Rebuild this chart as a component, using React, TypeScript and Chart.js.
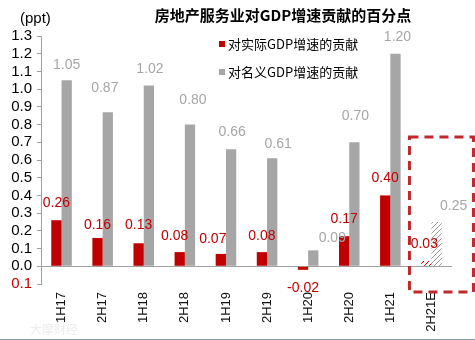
import React, { useEffect, useRef } from "react";
import { Chart, registerables } from "chart.js";

Chart.register(...registerables);

const categories = ["1H17", "2H17", "1H18", "2H18", "1H19", "2H19", "1H20", "2H20", "1H21", "2H21E"];
const realContribution = [0.26, 0.16, 0.13, 0.08, 0.07, 0.08, -0.02, 0.17, 0.4, 0.03];
const nominalContribution = [1.05, 0.87, 1.02, 0.8, 0.66, 0.61, 0.09, 0.7, 1.2, 0.25];
const seriesNames = ["对实际GDP增速的贡献", "对名义GDP增速的贡献"];
const titleText = "房地产服务业对GDP增速贡献的百分点";
const unitText = "(ppt)";
const estimateIndex = 9;

// label offsets (layout only)
const realLabelDx = [0, 0, 0, -5, -8, 0, 0, 0, 0, -2];
const realLabelDy = [-17, -13, -18, -16, -15, -16, 18, -17, -17, -17];
const nomLabelDx = [0, -3, 1, 3, 1, 6, 19, 1, 2, 17];
const nomLabelDy = [-15, -24, -16, -24, -17, -14, -12, -26, -17, -16];

const RED = "#C00000";
const GRAY = "#A6A6A6";
const AXIS = "#A0A0A0";

function makeHatch(color: string): CanvasPattern | string {
  const c = document.createElement("canvas");
  c.width = 5;
  c.height = 5;
  const g = c.getContext("2d");
  if (!g) return color;
  g.fillStyle = "#ffffff";
  g.fillRect(0, 0, 5, 5);
  g.strokeStyle = color;
  g.lineWidth = 1;
  g.beginPath();
  g.moveTo(0, 5);
  g.lineTo(5, 0);
  g.moveTo(-1, 1);
  g.lineTo(1, -1);
  g.moveTo(4, 6);
  g.lineTo(6, 4);
  g.stroke();
  const p = g.createPattern(c, "repeat");
  return p || color;
}

export default function App() {
  const ref = useRef<HTMLCanvasElement | null>(null);

  useEffect(() => {
    const canvas = ref.current;
    if (!canvas) return;
    const redHatch = makeHatch(RED);
    const grayHatch = makeHatch("#9a9a9a");

    const decor = {
      id: "decor",
      afterDatasetsDraw(chart: any) {
        const ctx = chart.ctx;
        ctx.save();
        ctx.font = "14px 'Liberation Sans', Arial, sans-serif";
        ctx.textAlign = "center";
        ctx.textBaseline = "middle";
        const m0 = chart.getDatasetMeta(0);
        const m1 = chart.getDatasetMeta(1);
        m0.data.forEach((el: any, i: number) => {
          ctx.fillStyle = RED;
          ctx.fillText(realContribution[i].toFixed(2), el.x + realLabelDx[i], el.y + realLabelDy[i]);
        });
        m1.data.forEach((el: any, i: number) => {
          ctx.fillStyle = GRAY;
          ctx.fillText(nominalContribution[i].toFixed(2), el.x + nomLabelDx[i], el.y + nomLabelDy[i]);
        });
        ctx.restore();
      },
      afterDraw(chart: any) {
        const ctx = chart.ctx;
        const xs = chart.scales.x;
        const ys = chart.scales.y;
        ctx.save();
        // title
        ctx.fillStyle = "#000";
        ctx.font = "bold 15px 'Noto Sans CJK SC', sans-serif";
        ctx.textAlign = "center";
        ctx.textBaseline = "middle";
        ctx.fillText(titleText, 283, 15);
        // unit
        ctx.font = "15px 'Liberation Sans', Arial, sans-serif";
        ctx.textAlign = "left";
        ctx.fillText(unitText, 20, 19);
        // legend
        ctx.font = "13px 'Noto Sans CJK SC', sans-serif";
        const colors = [RED, GRAY];
        seriesNames.forEach((n, i) => {
          const y = 44 + i * 28;
          ctx.fillStyle = colors[i];
          ctx.fillRect(219, y - 3, 6, 6);
          ctx.fillStyle = "#000";
          ctx.fillText(n, 228, y);
        });
        // dashed estimate box
        const cx = xs.getPixelForValue(estimateIndex);
        const top = ys.getPixelForValue(0.73);
        const bottom = ys.getPixelForValue(-0.145);
        ctx.strokeStyle = "#C0282D";
        ctx.lineWidth = 3;
        ctx.setLineDash([9, 6]);
        ctx.strokeRect(cx - 22, top, 64, bottom - top);
        ctx.setLineDash([]);
        // watermark
        ctx.fillStyle = "rgba(200,200,200,0.35)";
        ctx.font = "12px 'Noto Sans CJK SC', sans-serif";
        ctx.fillText("大摩财经", 30, 329);
        // bottom border line
        ctx.strokeStyle = "#8C99A6";
        ctx.lineWidth = 1;
        ctx.beginPath();
        ctx.moveTo(0, 339.5);
        ctx.lineTo(475, 339.5);
        ctx.stroke();
        ctx.restore();
      },
    };

    const chart = new Chart(canvas, {
      type: "bar",
      data: {
        labels: categories,
        datasets: [
          {
            label: seriesNames[0],
            data: realContribution,
            backgroundColor: (c: any) => (c.dataIndex === estimateIndex ? redHatch : RED),
            categoryPercentage: 0.5,
            barPercentage: 1.0,
          },
          {
            label: seriesNames[1],
            data: nominalContribution,
            backgroundColor: (c: any) => (c.dataIndex === estimateIndex ? grayHatch : GRAY),
            categoryPercentage: 0.5,
            barPercentage: 1.0,
          },
        ],
      },
      options: {
        responsive: false,
        animation: false,
        devicePixelRatio: 1,
        layout: { padding: { left: 0, right: 23, top: 36, bottom: 0 } },
        plugins: {
          legend: { display: false },
          title: { display: false },
          tooltip: { enabled: false },
        },
        scales: {
          x: {
            grid: { display: false, drawTicks: false },
            border: { display: false },
            ticks: {
              maxRotation: 90,
              minRotation: 90,
              autoSkip: false,
              padding: 8,
              color: "#111",
              font: { family: "'Liberation Sans', Arial, sans-serif", size: 13 },
            },
            afterFit: (s: any) => {
              s.height = 56;
            },
          },
          y: {
            min: -0.1,
            max: 1.3,
            ticks: {
              stepSize: 0.1,
              autoSkip: false,
              padding: 5,
              color: (c: any) => (c.tick && c.tick.value < -1e-9 ? RED : "#000"),
              font: { family: "'Liberation Sans', Arial, sans-serif", size: 15 },
              callback: (v: any) => Math.abs(Number(v)).toFixed(1),
            },
            grid: {
              color: (c: any) => (c.tick && Math.abs(c.tick.value) < 1e-9 ? AXIS : "rgba(0,0,0,0)"),
              tickColor: AXIS,
              tickLength: 4,
              lineWidth: 1,
            },
            border: { display: true, color: AXIS, width: 1 },
            afterFit: (s: any) => {
              s.width = 41;
            },
          },
        },
      },
      plugins: [decor],
    } as any);

    return () => chart.destroy();
  }, []);

  return (
    <div style={{ position: "fixed", left: 0, top: 0, width: 475, height: 340, background: "#fff" }}>
      <canvas ref={ref} width={475} height={340} />
    </div>
  );
}
